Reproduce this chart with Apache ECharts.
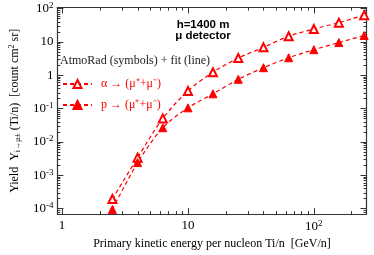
<!DOCTYPE html>
<html><head><meta charset="utf-8">
<script src="https://cdn.jsdelivr.net/npm/echarts@6/dist/echarts.min.js"></script>
<style>html,body{margin:0;padding:0;background:#fff}#c{width:374px;height:255px}</style>
</head><body><div id="c"></div>
<script>
// Data
const energies = [2.51, 3.98, 6.31, 10, 15.8, 25.1, 39.8, 63.1, 100, 158, 251];
const alphaYield = [1.95e-4, 3.4e-3, 0.051, 0.34, 1.24, 3.3, 6.9, 14.9, 24.5, 38, 63.7];
const protonYield = [9.5e-5, 2.42e-3, 0.0268, 0.106, 0.279, 0.76, 1.69, 3.37, 5.86, 9.6, 15.6];
const seriesNames = ['α → (μ⁺+μ⁻)', 'p → (μ⁺+μ⁻)'];
const xMajorTicks = [1, 10, 100];
const xMinorTicks = [2,3,4,5,6,7,8,9,20,30,40,50,60,70,80,90,200];
const yMajorTicks = [1e-4, 1e-3, 1e-2, 1e-1, 1, 10, 100];
const yMinorTicks = [];
for (let d = -5; d <= 2; d++) for (let m = 2; m <= 9; m++) yMinorTicks.push(m * Math.pow(10, d));
const X_MIN = 0.918, X_MAX = 262, Y_MIN = 6.9e-5, Y_MAX = 108;

const L = Math.log10;
const serif = 'Liberation Serif';
const red = '#ff0000';
const frame = '#333';

function expLabel(e) {
  e = Math.round(e);
  if (e === 0) return '1';
  if (e === 1) return '10';
  return '{b|10}{s|' + e + '}';
}
const labelRich = {
  b: {fontFamily: serif, fontSize: 13, color: '#000'},
  s: {fontFamily: serif, fontSize: 9, color: '#000', verticalAlign: 'bottom', padding: [0, 0, 6, 0]}
};

function tickAxis(dim, pos, vals, len, withLabels, lineShow) {
  const lo = dim === 'x' ? L(X_MIN) : L(Y_MIN);
  const hi = dim === 'x' ? L(X_MAX) : L(Y_MAX);
  const tv = vals.map(L).filter(v => v >= lo - 1e-9 && v <= hi + 1e-9);
  return {
    type: 'value', position: pos, min: lo, max: hi,
    axisLine: {show: lineShow, onZero: false, lineStyle: {color: frame, width: 1.2}},
    axisTick: {show: true, inside: true, length: len, customValues: tv, lineStyle: {color: frame, width: 1}},
    axisLabel: withLabels ? {
      show: true, customValues: tv, formatter: v => expLabel(v),
      margin: dim === 'x' ? 5 : 4, fontFamily: serif, fontSize: 13, color: '#000', rich: labelRich
    } : {show: false},
    splitLine: {show: false}
  };
}

const chart = echarts.init(document.getElementById('c'), null, {renderer: 'canvas'});
const xAxes = [
  {type: 'log', min: X_MIN, max: X_MAX, show: false},
  tickAxis('x', 'bottom', xMajorTicks, 6, true, true),
  tickAxis('x', 'bottom', xMinorTicks, 3, false, false),
  tickAxis('x', 'top', xMajorTicks, 6, false, true),
  tickAxis('x', 'top', xMinorTicks, 3, false, false)
];
xAxes[1].name = 'Primary kinetic energy per nucleon Ti/n  [GeV/n]';
xAxes[1].nameLocation = 'middle';
xAxes[1].nameGap = 17;
xAxes[1].nameTextStyle = {fontFamily: serif, fontSize: 12, color: '#000'};
const yAxes = [
  {type: 'log', min: Y_MIN, max: Y_MAX, show: false},
  tickAxis('y', 'left', yMajorTicks, 6, true, true),
  tickAxis('y', 'left', yMinorTicks, 3, false, false),
  tickAxis('y', 'right', yMajorTicks, 6, false, true),
  tickAxis('y', 'right', yMinorTicks, 3, false, false)
];
yAxes[1].name = '{t|Yield  Y}{sub|i→μ±}{t| (Ti/n)  [count cm}{sup|2}{t| sr]}';
yAxes[1].nameLocation = 'middle';
yAxes[1].nameGap = 31;
yAxes[1].nameRotate = 90;
yAxes[1].nameTextStyle = {
  fontFamily: serif, fontSize: 12, color: '#000',
  rich: {
    t: {fontFamily: serif, fontSize: 12, color: '#000'},
    sub: {fontFamily: serif, fontSize: 8, color: '#000', verticalAlign: 'top', padding: [6, 0, 0, 0]},
    sup: {fontFamily: serif, fontSize: 8, color: '#000', verticalAlign: 'bottom', padding: [0, 0, 6, 0]}
  }
};

function mk(name, ys, symbol) {
  return {
    name: name, type: 'line', xAxisIndex: 0, yAxisIndex: 0,
    data: energies.map((x, i) => [x, ys[i]]),
    smooth: 0.3, symbol: symbol, symbolSize: 8,
    lineStyle: {color: red, width: 1.2, type: [4, 3]},
    itemStyle: {color: red, borderColor: red, borderWidth: 1},
    emphasis: {disabled: true}, animation: false
  };
}

chart.setOption({
  animation: false,
  backgroundColor: '#fff',
  grid: {left: 45.5, right: 7.5, top: 7.5, bottom: 34.5, containLabel: false},
  xAxis: xAxes,
  yAxis: yAxes,
  legend: {
    orient: 'vertical', left: 62, top: 78, padding: 0,
    itemWidth: 29, itemHeight: 10, itemGap: 9,
    textStyle: {fontFamily: serif, fontSize: 12, color: red, padding: [0, 0, 0, 4]},
    data: seriesNames
  },
  graphic: [
    {type: 'text', left: 60, top: 55, style: {text: 'AtmoRad (symbols) + fit (line)', font: '12px "Liberation Serif"', fill: '#222'}},
    {type: 'text', x: 203, y: 19, style: {text: 'h=1400 m', font: 'bold 11.5px "Liberation Sans"', fill: '#000', textAlign: 'center'}},
    {type: 'text', x: 203, y: 30, style: {text: 'μ detector', font: 'bold 11.5px "Liberation Sans"', fill: '#000', textAlign: 'center'}}
  ],
  series: [
    mk(seriesNames[0], alphaYield, 'emptyTriangle'),
    mk(seriesNames[1], protonYield, 'triangle')
  ]
});
</script></body></html>
